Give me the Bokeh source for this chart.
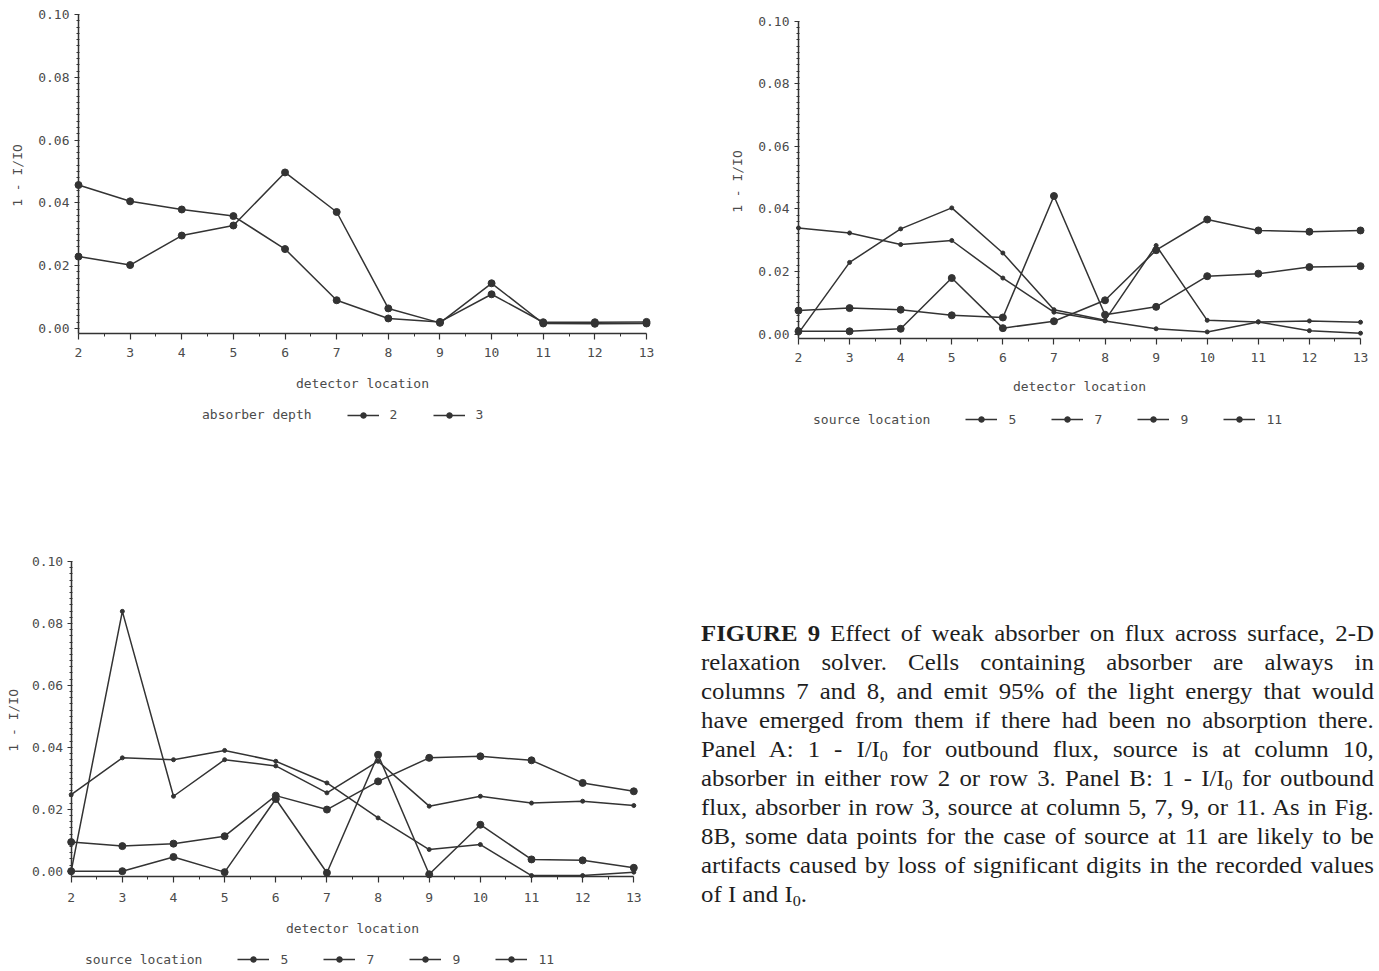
import math
from bokeh.plotting import figure
from bokeh.models import (ColumnDataSource, FixedTicker, PrintfTickFormatter,
                          Legend, LegendItem, Label, Div)
from bokeh.layouts import row, column
from bokeh.embed import file_html
from bokeh.resources import INLINE

# ---------------- data ----------------
detector_location = [2, 3, 4, 5, 6, 7, 8, 9, 10, 11, 12, 13]
y_tick_values = [0.00, 0.02, 0.04, 0.06, 0.08, 0.10]

# Panel A: absorber depth 2 / 3
panel_a_title = "absorber depth"
panel_a_labels = ["2", "3"]
panel_a_depth_2 = [0.0229, 0.0202, 0.0296, 0.0328, 0.0497, 0.0371,
                   0.0064, 0.0018, 0.0144, 0.0016, 0.0015, 0.0016]
panel_a_depth_3 = [0.0457, 0.0405, 0.0379, 0.0358, 0.0253, 0.0090,
                   0.0032, 0.0021, 0.0109, 0.0020, 0.0020, 0.0021]

# Panel B: source location 5 / 7 / 9 / 11
panel_b_title = "source location"
panel_b_labels = ["5", "7", "9", "11"]
panel_b_source_5 = [0.0009, 0.0009, 0.0017, 0.0179, 0.0019, 0.0041,
                    0.0108, 0.0268, 0.0366, 0.0331, 0.0327, 0.0331]
panel_b_source_7 = [0.0075, 0.0083, 0.0078, 0.0060, 0.0053, 0.0441,
                    0.0062, 0.0087, 0.0185, 0.0193, 0.0214, 0.0217]
panel_b_source_9 = [0.0003, 0.0229, 0.0336, 0.0403, 0.0259, 0.0078,
                    0.0044, 0.0283, 0.0044, 0.0039, 0.0042, 0.0038]
panel_b_source_11 = [0.0339, 0.0323, 0.0286, 0.0299, 0.0179, 0.0070,
                     0.0042, 0.0017, 0.0007, 0.0039, 0.0011, 0.0003]

# Panel C: source location 5 / 7 / 9 / 11
panel_c_title = "source location"
panel_c_labels = ["5", "7", "9", "11"]
panel_c_source_5 = [0.0000, 0.0000, 0.0046, -0.0003, 0.0233, -0.0005,
                    0.0376, -0.0010, 0.0150, 0.0038, 0.0035, 0.0011]
panel_c_source_7 = [0.0094, 0.0081, 0.0089, 0.0113, 0.0244, 0.0199,
                    0.0290, 0.0366, 0.0371, 0.0358, 0.0285, 0.0258]
panel_c_source_9 = [0.0247, 0.0366, 0.0360, 0.0390, 0.0355, 0.0285,
                    0.0172, 0.0070, 0.0086, -0.0014, -0.0014, -0.0003]
panel_c_source_11 = [0.0000, 0.0839, 0.0242, 0.0360, 0.0340, 0.0253,
                     0.0355, 0.0210, 0.0242, 0.0220, 0.0226, 0.0212]

# ---------------- style ----------------
MONO = "DejaVu Sans Mono"
TEXT = "#4b4b4b"
INK = "#333333"
FS = "13px"
BIG = 7
SMALL = 4


def x_window(left_px, right_px, px_first, px_last):
    """value range of a frame spanning left_px..right_px (page pixels)"""
    scale = (px_last - px_first) / (13 - 2)
    return (2 - (px_first - left_px) / scale, 13 + (right_px - px_last) / scale)


def y_window(top_px, bot_px, px_zero, px_top_tick):
    """value range of a frame spanning top_px..bot_px (page pixels)"""
    scale = (px_zero - px_top_tick) / 0.10
    return (-(bot_px - px_zero) / scale, 0.10 + (px_top_tick - top_px) / scale)


def make_panel(cfg):
    xpx, ypx = cfg["xpx"], cfg["ypx"]
    p = figure(frame_width=int(xpx[1] - xpx[0]), frame_height=int(ypx[1] - ypx[0]),
               x_range=x_window(*xpx), y_range=y_window(*ypx),
               min_border_left=0, min_border_right=0,
               min_border_top=0, min_border_bottom=0,
               output_backend="svg", toolbar_location=None, margin=0,
               background_fill_color="white", border_fill_color="white")
    p.xgrid.visible = False
    p.ygrid.visible = False
    p.outline_line_color = None

    xa = p.xaxis[0]
    ya = p.yaxis[0]
    xa.ticker = FixedTicker(ticks=detector_location,
                            minor_ticks=[v + 0.5 for v in detector_location[:-1]])
    ya.ticker = FixedTicker(ticks=y_tick_values,
                            minor_ticks=[i * 0.002 for i in range(51)])
    ya.formatter = PrintfTickFormatter(format="%.2f")
    xa.fixed_location = cfg["axis_y"]
    ya.fixed_location = detector_location[0]
    xa.bounds = (detector_location[0], detector_location[-1])
    ya.bounds = (cfg["axis_y"], 0.10)
    for ax in (xa, ya):
        ax.axis_line_color = INK
        ax.axis_line_width = 1.5
        ax.major_tick_line_color = INK
        ax.major_tick_line_width = 1.2
        ax.minor_tick_line_color = INK
        ax.major_label_text_font = MONO
        ax.major_label_text_font_size = FS
        ax.major_label_text_color = TEXT
        ax.axis_label_text_font = MONO
        ax.axis_label_text_font_size = FS
        ax.axis_label_text_color = TEXT
        ax.axis_label_text_font_style = "normal"
    xa.axis_label = "detector location"
    xa.major_tick_in = 0
    xa.major_tick_out = 6
    xa.minor_tick_in = 0
    xa.minor_tick_out = 3
    ya.major_tick_in = 0
    ya.major_tick_out = 4
    ya.minor_tick_in = 1
    ya.minor_tick_out = 2
    xa.major_label_standoff = cfg["xls"]
    xa.axis_label_standoff = cfg["xts"]
    ya.major_label_standoff = cfg["yls"]

    # y-axis caption, centred on the 0.00 .. 0.10 span
    p.add_layout(Label(x=detector_location[0], y=0.05, x_offset=cfg["ytx"], y_offset=-4,
                       text="1 - I/IO", angle=math.pi / 2, text_font=MONO,
                       text_font_size=FS, text_color=TEXT,
                       text_align="center", text_baseline="middle"))

    # legend: a glyph-less first entry carries the legend's caption text
    blank = p.scatter(x=[], y=[], size=0, fill_alpha=0, line_alpha=0)
    items = [LegendItem(label=cfg["title"], renderers=[blank])]
    for lab, ys, size in cfg["series"]:
        src = ColumnDataSource(dict(x=detector_location, y=ys))
        r1 = p.line("x", "y", source=src, line_color=INK, line_width=1.5)
        r2 = p.scatter("x", "y", source=src, marker="circle", size=size,
                       fill_color=INK, line_color=INK)
        items.append(LegendItem(label=lab, renderers=[r1, r2]))

    leg = Legend(items=items, location=cfg["leg_loc"], orientation="horizontal",
                 glyph_width=32, glyph_height=14, label_standoff=11, spacing=35,
                 padding=0, margin=0, border_line_color=None,
                 background_fill_alpha=0, border_line_alpha=0,
                 label_text_font=MONO,
                 label_text_font_size=FS, label_text_color=TEXT,
                 label_height=14, label_width=8)
    p.add_layout(leg)
    return p


# xpx = (frame left, frame right, pixel of x=2, pixel of x=13) on the page
# ypx = (frame top, frame bottom, pixel of 0.00, pixel of 0.10) on the page
pA = make_panel(dict(
    xpx=(0, 690, 78, 646), ypx=(0, 432, 328, 14), axis_y=-0.0015,
    xls=9, xts=15, yls=5, ytx=-61, leg_loc=(159, 9.9), title=panel_a_title,
    series=[(panel_a_labels[0], panel_a_depth_2, BIG),
            (panel_a_labels[1], panel_a_depth_3, BIG)]))

pB = make_panel(dict(
    xpx=(690, 1379, 798, 1360), ypx=(0, 432, 333.6, 20.5), axis_y=-0.0013,
    xls=9, xts=13, yls=5, ytx=-61, leg_loc=(80, 5.4), title=panel_b_title,
    series=[(panel_b_labels[0], panel_b_source_5, BIG),
            (panel_b_labels[1], panel_b_source_7, BIG),
            (panel_b_labels[2], panel_b_source_9, SMALL),
            (panel_b_labels[3], panel_b_source_11, SMALL)]))

pC = make_panel(dict(
    xpx=(0, 690, 70.7, 633.3), ypx=(432, 971, 870.7, 561), axis_y=-0.0017,
    xls=11, xts=15, yls=4, ytx=-58, leg_loc=(42, 4.4), title=panel_c_title,
    series=[(panel_c_labels[0], panel_c_source_5, BIG),
            (panel_c_labels[1], panel_c_source_7, BIG),
            (panel_c_labels[2], panel_c_source_9, SMALL),
            (panel_c_labels[3], panel_c_source_11, SMALL)]))

SUB = '<sub style="font-size:65%;line-height:0;vertical-align:-0.3em">0</sub>'
caption_lines = [
    "<b>FIGURE 9</b> Effect of weak absorber on flux across surface, 2-D",
    "relaxation solver. Cells containing absorber are always in",
    "columns 7 and 8, and emit 95% of the light energy that would",
    "have emerged from them if there had been no absorption there.",
    "Panel A: 1 - I/I" + SUB + " for outbound flux, source is at column 10,",
    "absorber in either row 2 or row 3. Panel B: 1 - I/I" + SUB + " for outbound",
    "flux, absorber in row 3, source at column 5, 7, 9, or 11. As in Fig.",
    "8B, some data points for the case of source at 11 are likely to be",
    "artifacts caused by loss of significant digits in the recorded values",
    "of I and I" + SUB + ".",
]
body = ""
for i, ln in enumerate(caption_lines):
    last = "left" if i == len(caption_lines) - 1 else "justify"
    body += ('<div style="text-align:justify;text-align-last:%s;">%s</div>' % (last, ln))
html = ('<div style="box-sizing:border-box;width:689px;height:539px;overflow:hidden;'
        'padding:186.5px 0 0 10.7px;">'
        '<div style="width:610px;transform:scaleX(1.103);transform-origin:0 0;'
        "font-family:'Liberation Serif','Times New Roman',serif;font-size:22.5px;"
        'line-height:29.1px;color:#1e1e1e;">' + body + '</div></div>')
caption = Div(text=html, width=689, height=539, margin=0)

layout = column(row(pA, pB, margin=0), row(pC, caption, margin=0), margin=0)

open("out.html", "w").write(file_html(layout, INLINE))
